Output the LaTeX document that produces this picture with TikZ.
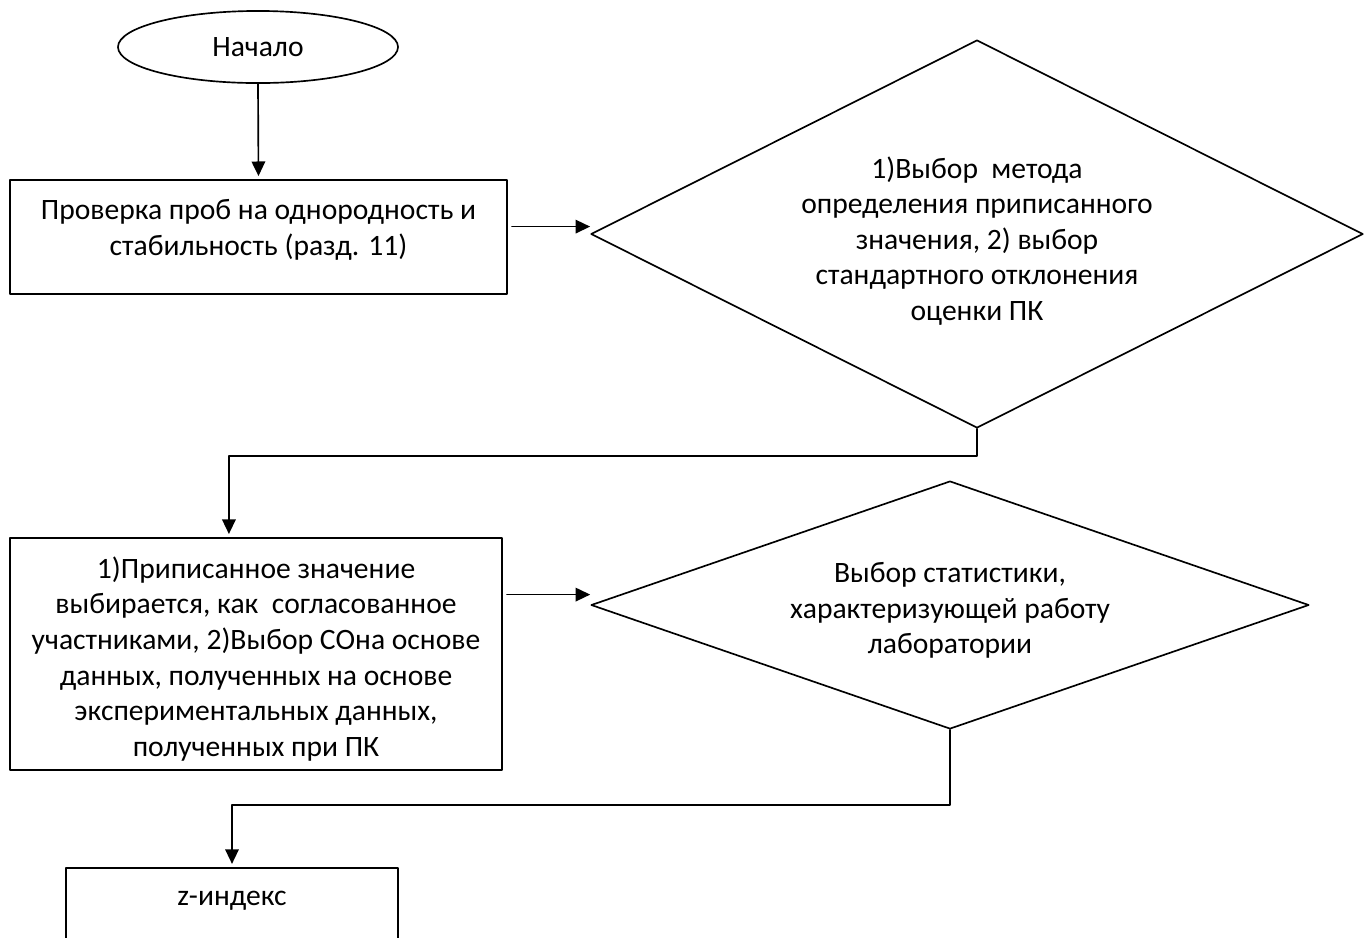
\documentclass[tikz,border=0pt]{standalone}
\usepackage{fontspec}
\setmainfont{Carlito}
\usetikzlibrary{arrows.meta,shapes.geometric}

\tikzset{
  block/.style={draw,line width=0.8pt,rectangle,align=center,inner sep=2pt},
  startstop/.style={draw,line width=0.8pt,ellipse,minimum width=134.4pt,minimum height=34.6pt,inner sep=0pt},
  decision/.style={draw,line width=0.8pt,diamond,align=center,inner sep=0pt},
  link/.style={line width=0.8pt,->,shorten <=2pt,shorten >=1.5pt}
}
\newcommand{\lowstrut}[1]{\rule{0pt}{#1}}

\begin{document}
\begin{tikzpicture}[line cap=round,line join=round,>={Triangle[length=7pt,width=6.5pt]},x=0.48pt,y=-0.48pt,
  every node/.style={font=\fontsize{14.2}{17.1}\selectfont}]
\useasboundingbox (0,0) rectangle (1366,937);
\clip (0,0) rectangle (1366,937);

\node[startstop] (start) at (258,47) {Начало};
\node[block,minimum width=238.6pt,minimum height=54.7pt,text depth=9pt] (check) at (258.5,237)
  {Проверка проб на однородность и\\стабильность (разд. 11)};
\node[decision,aspect=2,minimum width=370.6pt,minimum height=186.2pt] (method) at (977,234)
  {\lowstrut{17pt}1)Выбор~ метода\\определения приписанного\\значения, 2) выбор\\стандартного отклонения\\оценки ПК};
\node[block,minimum width=236.2pt,minimum height=111.4pt] (assigned) at (256,654)
  {\lowstrut{15pt}1)Приписанное значение\\выбирается, как~ согласованное\\участниками, 2)Выбор СОна основе\\данных, полученных на основе\\экспериментальных данных,\\полученных при ПК};
\node[decision,aspect=2.9,minimum width=344.6pt,minimum height=119pt] (stat) at (950,605)
  {\lowstrut{15pt}Выбор статистики,\\характеризующей работу\\лаборатории};
\node[block,anchor=north,minimum width=159.4pt,inner ysep=8pt,text height=10pt,text depth=40pt] (zindex) at (232,867)
  {z-индекс};

\draw[link,shorten <=0pt] (start.south) -- (check.north);
\draw[link,shorten >=0pt] ([yshift=5pt]check.east) -- ([yshift=5pt]check.east -| method.west);
\draw[link,shorten <=0pt] (method.south) -- ++(0,27) -| ([xshift=-13pt]assigned.north);
\draw[link,shorten >=0pt] ([yshift=5pt]assigned.east |- stat.west) -- ([yshift=5pt]stat.west);
\draw[link,shorten <=0pt] (stat.south) -- ++(0,75) -| (zindex.north);
\end{tikzpicture}
\end{document}
